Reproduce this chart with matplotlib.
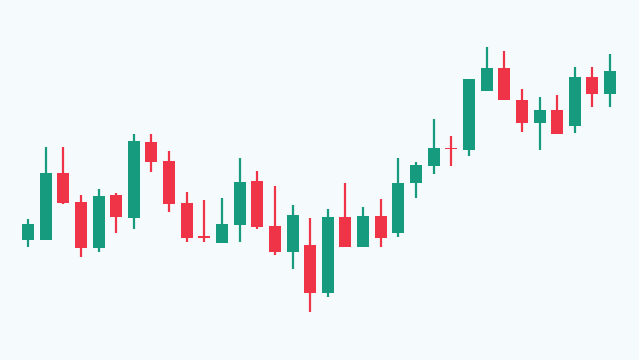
import matplotlib
matplotlib.use("Agg")
import matplotlib.pyplot as plt

# OHLC values (arbitrary price units)
opens  = [120, 120, 187, 158, 112, 165, 142, 218, 199, 157, 124, 117, 135, 179, 134, 108, 115, 67, 143, 113, 144, 127, 177, 194, 212, 210, 269, 292, 260, 237, 250, 234, 283, 266]
highs  = [141, 213, 213, 165, 171, 167, 226, 226, 209, 168, 160, 162, 202, 189, 174, 155, 142, 151, 177, 153, 161, 202, 198, 241, 224, 281, 313, 309, 271, 263, 265, 293, 293, 306]
lows   = [113, 120, 156, 103, 108, 127, 131, 188, 148, 118, 118, 117, 118, 131, 105, 91, 48, 63, 113, 113, 113, 123, 162, 186, 194, 204, 269, 260, 228, 210, 226, 227, 253, 253]
closes = [136, 187, 157, 112, 164, 143, 219, 198, 156, 122, 122, 136, 178, 133, 108, 145, 67, 143, 113, 144, 122, 177, 195, 212, 211, 281, 292, 260, 237, 250, 226, 283, 266, 289]

up_color = "#179b7f"
down_color = "#ee3446"
bg = "#f5fafd"

fig = plt.figure(figsize=(6.39, 3.6), dpi=100, facecolor=bg)
ax = fig.add_axes([0, 0, 1, 1])
ax.set_facecolor(bg)

for i in range(len(opens)):
    o, h, l, c = opens[i], highs[i], lows[i], closes[i]
    col = up_color if c >= o else down_color
    ax.vlines(i, l, h, color=col, linewidth=1.6)
    bottom = min(o, c)
    height = max(abs(c - o), 1.5)
    ax.bar(i, height, bottom=bottom, width=0.68, color=col)

ax.set_xlim(-1.587, 34.64)
ax.set_ylim(0, 360)
ax.axis("off")

fig.savefig("out.png", dpi=100, facecolor=bg)
